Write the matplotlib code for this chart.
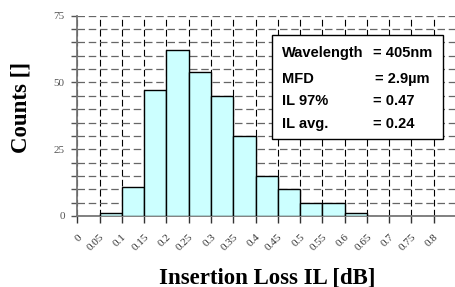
import numpy as np
import matplotlib
matplotlib.use('Agg')
import matplotlib.pyplot as plt
from matplotlib.ticker import MultipleLocator

# histogram bins (left edges) and counts
bin_left = [0.05, 0.10, 0.15, 0.20, 0.25, 0.30, 0.35, 0.40, 0.45, 0.50, 0.55, 0.60]
counts = [1, 11, 47, 62, 54, 45, 30, 15, 10, 5, 5, 1]
bin_width = 0.05

x_ticks = [0, 0.05, 0.1, 0.15, 0.2, 0.25, 0.3, 0.35, 0.4, 0.45, 0.5, 0.55, 0.6, 0.65, 0.7, 0.75, 0.8]
x_tick_labels = ['0', '0.05', '0.1', '0.15', '0.2', '0.25', '0.3', '0.35', '0.4',
                 '0.45', '0.5', '0.55', '0.6', '0.65', '0.7', '0.75', '0.8']
y_ticks = [0, 25, 50, 75]

box_labels = ['Wavelength', 'MFD', 'IL 97%', 'IL avg.']
box_values = ['= 405nm', '= 2.9\u00b5m', '= 0.47', '= 0.24']

fig = plt.figure(figsize=(4.56, 2.87), dpi=100)
ax = fig.add_axes([0.1695, 0.2474, 0.8305, 0.698])

ax.bar(bin_left, counts, width=bin_width, align='edge',
       color='#ccffff', edgecolor='black', linewidth=1.0, zorder=3)

ax.set_xlim(0, 0.85)
ax.set_ylim(0, 75)

ax.set_xticks(x_ticks)
ax.set_xticklabels(x_tick_labels, rotation=45, ha='right', va='top',
                   rotation_mode='anchor', fontsize=8, family='Liberation Serif',
                   color='#333333')
ax.set_yticks(y_ticks)
ax.set_yticklabels([str(v) for v in y_ticks], fontsize=8,
                   family='Liberation Serif', color='#555555')
ax.yaxis.set_minor_locator(MultipleLocator(5))

ax.tick_params(axis='x', length=5, width=1, color='#333333', pad=7)
ax.tick_params(axis='y', which='both', length=4, width=1, color='#555555', pad=5)

# dashed grids
ax.grid(axis='x', which='major', color='black', linestyle=(0, (6, 3)), linewidth=0.8, zorder=1)
ax.grid(axis='y', which='both', color='#666666', linestyle=(0, (6, 3)), linewidth=0.9, zorder=1)

for s in ['top', 'right']:
    ax.spines[s].set_visible(False)
for s in ['left', 'bottom']:
    ax.spines[s].set_color('#777777')
    ax.spines[s].set_linewidth(1.3)

# axis titles placed directly in figure coords
fig.text(267 / 456, 1 - 278 / 287, 'Insertion Loss IL [dB]', fontsize=16.5,
         fontweight='bold', family='Liberation Serif', ha='center', va='center')
fig.text(21 / 456, 1 - 107 / 287, 'Counts []', fontsize=16.5, rotation=90,
         fontweight='bold', family='Liberation Serif', ha='center', va='center')

# info box
box = plt.Rectangle((272 / 456, 1 - 139 / 287), (443 - 272) / 456, (139 - 35) / 287,
                    transform=fig.transFigure, facecolor='white', edgecolor='black',
                    linewidth=1.0, zorder=5)
fig.patches.append(box)
row_y = [53, 79, 101, 124]
val_x = [373, 375, 373, 373]
for lab, val, yy, vx in zip(box_labels, box_values, row_y, val_x):
    fig.text(282 / 456, 1 - yy / 287, lab, fontsize=10.5, fontweight='bold',
             family='Liberation Sans', va='center', ha='left', zorder=6)
    fig.text(vx / 456, 1 - yy / 287, val, fontsize=10.5, fontweight='bold',
             family='Liberation Sans', va='center', ha='left', zorder=6)

fig.savefig('out.png', dpi=100)
